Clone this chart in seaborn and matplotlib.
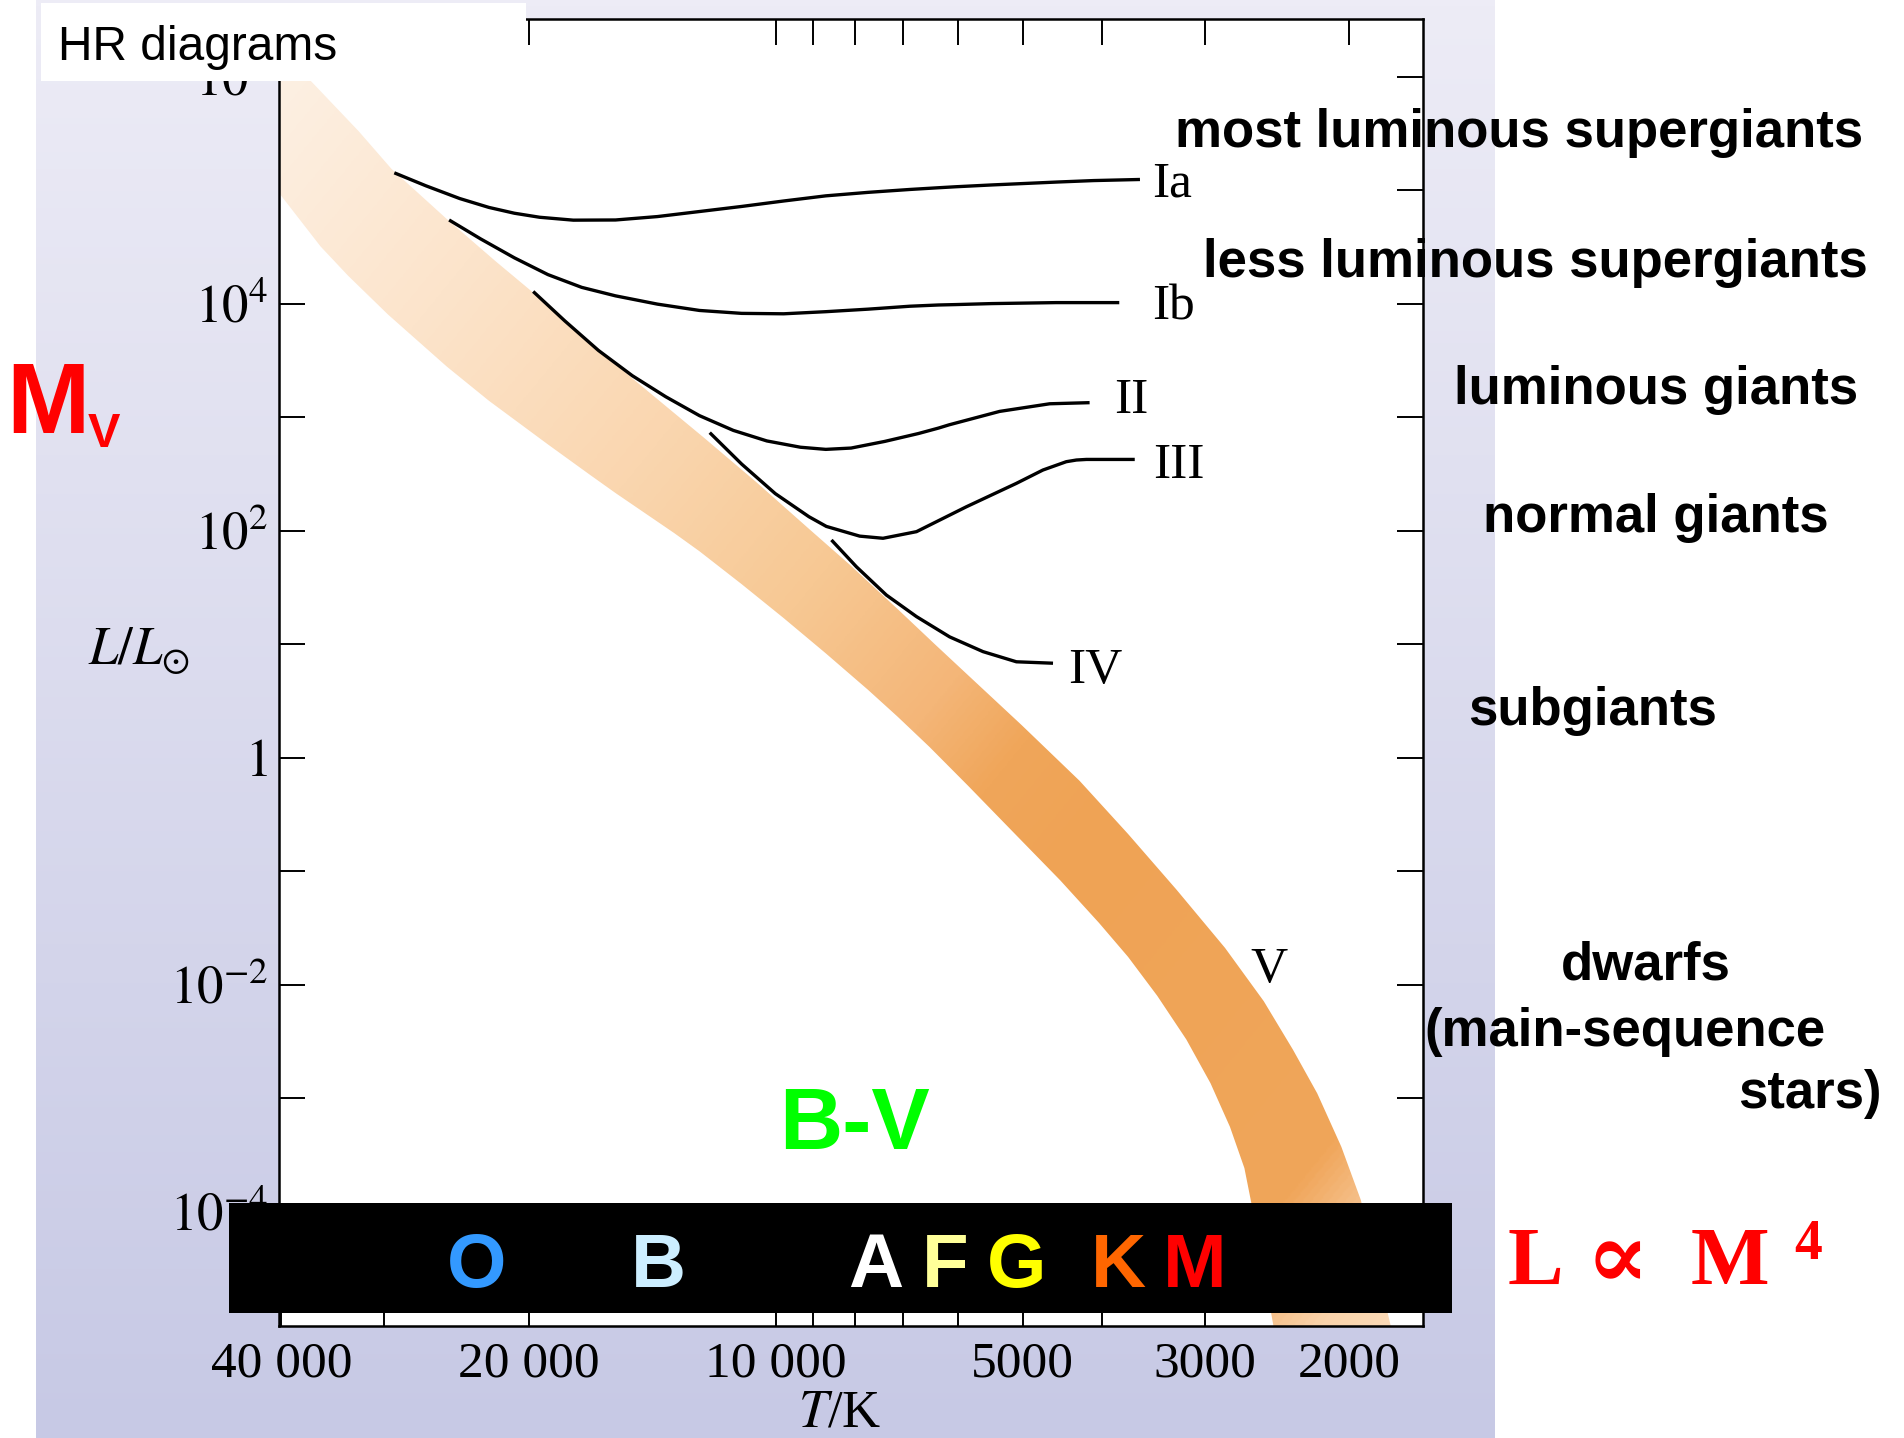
import numpy as np
import pandas as pd
import matplotlib
matplotlib.use("Agg")
import matplotlib.pyplot as plt
from matplotlib.patches import Polygon, Rectangle
from matplotlib.colors import LinearSegmentedColormap, to_rgb
from matplotlib.ticker import FixedLocator, FixedFormatter, NullLocator, NullFormatter
import seaborn as sns

sns.set_style("white")
plt.rcParams["mathtext.fontset"] = "stix"
plt.rcParams["font.family"] = ["Liberation Serif", "DejaVu Serif"]
for key in ("text.color", "xtick.color", "ytick.color", "axes.labelcolor", "axes.edgecolor"):
    plt.rcParams[key] = "black"

# ---------------------------------------------------------------- data
# luminosity-class sequences: effective temperature (K) and L / L_sun
ia_temp = [29140, 26670, 24260, 22350, 20810, 19390, 17640, 15670, 13930, 12380, 11000,
           9777, 8688, 7719, 6861, 6332, 6035, 5454, 4534, 4098, 3599]
ia_lum = [1.418e5, 1.09e5, 8.42e4, 7.03e4, 6.25e4, 5.76e4, 5.43e4, 5.45e4, 5.84e4, 6.47e4, 7.17e4,
          8.01e4, 8.89e4, 9.54e4, 1.012e5, 1.048e5, 1.069e5, 1.109e5, 1.177e5, 1.212e5, 1.239e5]

ib_temp = [24990, 22870, 20810, 18940, 17230, 15670, 13930, 12380, 11000, 9777, 8688,
           7719, 6861, 6332, 6035, 5454, 4553, 3814]
ib_lum = [5.45e4, 3.71e4, 2.53e4, 1.80e4, 1.39e4, 1.17e4, 9890, 8700, 8200, 8130, 8485,
          8930, 9480, 9720, 9800, 1.0e4, 1.02e4, 1.02e4]

ii_temp = [19740, 18060, 16440, 14950, 13610, 12380, 11260, 10250, 9327, 8688, 8092,
           7364, 6700, 6332, 6145, 5335, 4636, 4145]
ii_lum = [1.278e4, 7030, 3870, 2318, 1512, 1030, 764, 617, 543, 520, 534,
          611, 717, 801, 856, 1123, 1311, 1341]

iii_temp = [12030, 11000, 10010, 9108, 8674, 7899, 7399, 6736, 5860, 5090, 4725, 4425,
            4301, 4182, 3652]
iii_lum = [730, 386, 212, 132.7, 109, 89.5, 85.7, 98, 162, 261, 342, 405,
           419, 424, 424]

iv_temp = [8551, 7973, 7330, 6736, 6138, 5589, 5090, 4593]
iv_lum = [82.8, 48.1, 27.1, 17.5, 11.6, 8.6, 7.0, 6.8]

# main-sequence (class V) band: upper and lower boundaries
ms_upper_temp = [42000, 40270, 36670, 32210, 29380, 25190, 21950, 19900, 17390, 14920,
                 12200, 10560, 9090, 8124, 7066, 6410, 5830, 5018, 4263, 3721, 3248,
                 2835, 2543, 2343, 2189, 2046, 1937, 1781, 1726]
ms_upper_lum = [2.43e6, 1.76e6, 8.84e5, 3.30e5, 1.539e5, 5.61e4, 2.37e4, 1.311e4, 5675, 2172,
                650, 268, 102.5, 50.2, 19.7, 10.12, 5.34, 1.945, 0.626, 0.2131, 0.0688,
                0.02114, 7.17e-3, 2.68e-3, 1.107e-3, 3.75e-4, 1.273e-4, 9.9e-6, 4.95e-6]
ms_lower_temp = [42000, 40300, 35830, 33180, 29660, 25140, 22350, 18940, 16830, 15670,
                 13290, 12380, 11000, 9777, 8688, 7719, 7107, 6497, 5830, 5157, 4500,
                 4037, 3721, 3429, 3160, 2953, 2796, 2685, 2631, 2475, 2424]
ms_lower_lum = [1.39e5, 9.5e4, 3.18e4, 1.762e4, 8010, 2780, 1394, 575, 310, 214.6,
                95.2, 65.8, 33.8, 16.98, 8.31, 3.97, 2.31, 1.248, 0.5675, 0.2282, 0.0831,
                0.0351, 0.01762, 8.01e-3, 3.30e-3, 1.36e-3, 5.61e-4, 2.43e-4, 1.16e-4,
                9.9e-6, 4.95e-6]

class_names = ["Ia", "Ib", "II", "III", "IV", "V"]
class_label_temp = [3478, 3478, 3867, 3469, 4404, 2640]
class_label_lum = [8.73e4, 7180, 1098, 289, 4.58, 0.0106]

x_ticks = [40000, 30000, 20000, 10000, 9000, 8000, 7000, 6000, 5000, 4000, 3000, 2000]
x_tick_labels = ["40 000", "", "20 000", "10 000", "", "", "", "", "5000", "", "3000", "2000"]
y_major = [1e-4, 1e-2, 1, 1e2, 1e4, 1e6]
y_major_labels = [r"$10^{-4}$", r"$10^{-2}$", r"$1$", r"$10^{2}$", r"$10^{4}$", r"$10^{6}$"]
y_minor = [1e-3, 1e-1, 10, 1e3, 1e5]

spectral_types = ["O", "B", "A", "F", "G", "K", "M"]
spectral_colors = ["#3399FF", "#CCEEFF", "#FFFFFF", "#FFFF99", "#FFFF00", "#FF6600", "#FF0000"]

region_names = ["most luminous supergiants", "less luminous supergiants", "luminous giants",
                "normal giants", "subgiants", "dwarfs", "(main-sequence", "stars)"]

# ---------------------------------------------------------------- figure
W, H = 1904, 1438
fig = plt.figure(figsize=(W / 100, H / 100), dpi=100)
fig.patch.set_facecolor("white")


def fx(px):
    return px / W


def fy(py):
    return 1 - py / H


# lavender backdrop panel
bg = fig.add_axes([fx(36), 0, fx(1494 - 36), 1], zorder=-10)
bg.set_axis_off()
c_top = np.array(to_rgb("#EDECF6"))
c_bot = np.array(to_rgb("#C7C9E5"))
t = np.linspace(0, 1, 256)[:, None, None]
bg.imshow(c_top * (1 - t) + c_bot * t, aspect="auto", extent=(0, 1, 0, 1), origin="upper")
bg.set_xlim(0, 1)
bg.set_ylim(0, 1)

# main HR axes
ax = fig.add_axes([fx(279), fy(1326), fx(1423 - 279), (1326 - 19.4) / H])
ax.set_facecolor("white")
ax.set_xscale("log")
ax.set_yscale("log")
ax.set_xlim(40270, 1627)
ax.set_ylim(10 ** -5.005, 10 ** 6.503)
ax.set_autoscale_on(False)

# main-sequence band with colour gradient
band_T = ms_upper_temp + ms_lower_temp[::-1]
band_L = ms_upper_lum + ms_lower_lum[::-1]
band = Polygon(np.column_stack([band_T, band_L]), closed=True,
               facecolor="none", edgecolor="none", transform=ax.transData)
ax.add_patch(band)

nu, nv = 700, 800
U, V = np.meshgrid(np.linspace(0, 1, nu), np.linspace(0, 1, nv))
Xd = 230 + U * 942
Yd = 16 + V * 1076
s = ((Xd - 230) * 0.55 + (Yd - 60) * 0.45) / 616.5
stops = [(0.00, "#FDF0E3"), (0.25, "#FCE4CB"), (0.50, "#FAD6AF"), (0.70, "#F7C893"),
         (0.86, "#F4B678"), (0.95, "#F0A65A"), (1.05, "#EFA355"), (1.42, "#F0A65A"),
         (1.47, "#F5BD85"), (1.52, "#FAD3AA"), (1.60, "#FCDEBE")]
band_cmap = LinearSegmentedColormap.from_list(
    "ms_band", [(p / 1.60, c) for p, c in stops])
img = band_cmap(np.clip(s / 1.60, 0, 1))
im = ax.imshow(img, extent=(0, 1, 0, 1), transform=ax.transAxes, origin="upper",
               aspect="auto", zorder=1, interpolation="bilinear")
im.set_clip_path(band)

# luminosity-class curves
rows = []
for name, temps, lums in [("Ia", ia_temp, ia_lum), ("Ib", ib_temp, ib_lum),
                          ("II", ii_temp, ii_lum), ("III", iii_temp, iii_lum),
                          ("IV", iv_temp, iv_lum)]:
    rows += [(name, T, L) for T, L in zip(temps, lums)]
curves = pd.DataFrame(rows, columns=["cls", "T", "L"])
sns.lineplot(data=curves, x="T", y="L", units="cls", estimator=None, sort=False,
             color="black", linewidth=2.4, legend=False, ax=ax, zorder=3,
             solid_joinstyle="round", solid_capstyle="butt")
ax.set_xlabel("")
ax.set_ylabel("")

for name, T, L in zip(class_names, class_label_temp, class_label_lum):
    ax.text(T, L, name, fontsize=37, ha="left", va="baseline",
            family=["Liberation Serif", "DejaVu Serif"], zorder=4)

# axes, ticks, spines
ax.xaxis.set_major_locator(FixedLocator(x_ticks))
ax.xaxis.set_major_formatter(FixedFormatter(x_tick_labels))
ax.xaxis.set_minor_locator(NullLocator())
ax.yaxis.set_major_locator(FixedLocator(y_major))
ax.yaxis.set_major_formatter(FixedFormatter(y_major_labels))
ax.yaxis.set_minor_locator(FixedLocator(y_minor))
ax.yaxis.set_minor_formatter(NullFormatter())
ax.tick_params(which="both", direction="in", left=True, right=True, top=True, bottom=True,
               length=19, width=1.4, color="black")
ax.tick_params(axis="x", labelsize=37, pad=11)
ax.tick_params(axis="y", labelsize=38, pad=8)
for sp in ax.spines.values():
    sp.set_visible(True)
    sp.set_linewidth(1.8)
    sp.set_color("black")

fig.text(fx(840), fy(1426.7), r"$T$/K", fontsize=38, ha="center", va="baseline")
fig.text(fx(88), fy(665.2), r"$L/L_{\odot}$", fontsize=38, ha="left", va="baseline")

# title box
fig.add_artist(Rectangle((fx(41), fy(80.7)), fx(526 - 41), (80.7 - 3) / H,
                         transform=fig.transFigure, facecolor="white",
                         edgecolor="none", zorder=10))
fig.text(fx(58.5), fy(60), "HR diagrams", fontsize=34.5, family="Liberation Sans",
         ha="left", va="baseline", zorder=11)

# spectral-type strip
fig.add_artist(Rectangle((fx(229), fy(1313)), fx(1452 - 229), (1313 - 1203) / H,
                         transform=fig.transFigure, facecolor="black",
                         edgecolor="none", zorder=10))
for letter, col, cx in zip(spectral_types, spectral_colors,
                           [477, 658, 876, 945, 1017, 1118, 1195]):
    fig.text(fx(cx), fy(1286.7), letter, color=col, fontsize=55, fontweight="bold",
             family="Liberation Sans", ha="center", va="baseline", zorder=11)

# red / green annotations
sans = "Liberation Sans"
fig.text(fx(6.5), fy(433.3), "M", color="#FF0000", fontsize=72, fontweight="bold",
         family=sans, ha="left", va="baseline", zorder=11)
fig.text(fx(88), fy(446.7), "V", color="#FF0000", fontsize=35, fontweight="bold",
         family=sans, ha="left", va="baseline", zorder=11)
fig.text(fx(779.5), fy(1149), "B-V", color="#00FF00", fontsize=63, fontweight="bold",
         family=sans, ha="left", va="baseline", zorder=11)

serif = ["Liberation Serif", "DejaVu Serif"]
fig.text(fx(1508), fy(1284.4), "L", color="#FF0000", fontsize=60, fontweight="bold",
         family=serif, ha="left", va="baseline", zorder=11)
fig.text(fx(1586), fy(1288), "\u221d", color="#FF0000", fontsize=68, fontweight="bold",
         family=["DejaVu Serif"], ha="left", va="baseline", zorder=11)
fig.text(fx(1691), fy(1284.4), "M", color="#FF0000", fontsize=60, fontweight="bold",
         family=serif, ha="left", va="baseline", zorder=11)
fig.text(fx(1794), fy(1258.7), "4", color="#FF0000", fontsize=40, fontweight="bold",
         family=serif, ha="left", va="baseline", zorder=11)

# luminosity-class descriptions
region_pos = [(1175.4, 146.8), (1203.4, 277), (1453.5, 403.7), (1482.7, 532),
              (1468, 724.8), (1560.4, 980), (1424.4, 1046), (1737.7, 1108)]
for name, (px, py) in zip(region_names, region_pos):
    fig.text(fx(px), fy(py), name, fontsize=38, fontweight="bold", family=sans,
             ha="left", va="baseline", zorder=11)

fig.savefig("out.png", dpi=100, facecolor="white")
